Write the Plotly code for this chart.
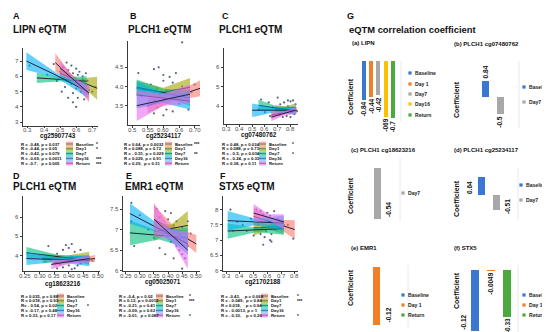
import plotly.graph_objects as go

W, H = 550, 332
FONT = "Liberation Sans, Arial, sans-serif"

def fx(px):
    return px / W

def fy(py):
    return 1 - py / H

def rgba(h, a):
    h = h.lstrip("#")
    return "rgba(%d,%d,%d,%.2f)" % (int(h[0:2], 16), int(h[2:4], 16), int(h[4:6], 16), a)

# ---------------- data ----------------
groups = ["Baseline", "Day1", "Day7", "Day16", "Return"]
group_colors = ["#F8766D", "#A3A500", "#00BF7D", "#00B0F6", "#E76BF3"]

# Panel A  LIPN  cg25907743
A_px = [0.31, 0.42, 0.46, 0.50, 0.52, 0.53, 0.54, 0.55, 0.56, 0.57, 0.57, 0.58, 0.58, 0.59, 0.60, 0.60, 0.61, 0.61,
        0.62, 0.62, 0.63, 0.64, 0.65, 0.65, 0.66, 0.55, 0.53, 0.60, 0.58, 0.68, 0.70, 0.72, 0.48, 0.51, 0.64, 0.67]
A_py = [6.7, 6.1, 6.8, 6.3, 6.6, 5.9, 6.9, 6.4, 6.0, 6.7, 5.5, 6.2, 4.9, 5.8, 6.5, 5.2, 6.1, 4.6,
        5.6, 6.3, 5.0, 6.0, 4.5, 5.4, 6.2, 4.6, 5.3, 4.0, 4.3, 5.1, 5.0, 5.3, 5.7, 5.0, 5.8, 5.7]
A_fit_x = [[0.47, 0.575, 0.68], [0.50, 0.615, 0.73], [0.355, 0.51, 0.665], [0.29, 0.48, 0.67], [0.50, 0.59, 0.68]]
A_fit_y = [[6.9, 5.85, 4.8], [6.2, 5.7, 5.22], [5.9, 5.8, 5.68], [7.0, 6.05, 5.0], [6.55, 5.75, 4.9]]
A_fit_ci = [[0.6, 0.2, 0.5], [0.4, 0.15, 0.75], [0.33, 0.12, 0.33], [0.58, 0.15, 0.4], [0.45, 0.15, 0.45]]
A_stats = ["R = -0.48, p = 0.037", "R = -0.44, p = 0.05", "R = -0.42, p = 0.079", "R = -0.69, p = 0.0011", "R = -0.7,   p = 0.005"]
A_stars = ["*", "*", "", "***", "***"]

# Panel B  PLCH1  cg25234117
B_px = [0.66, 0.52, 0.57, 0.585, 0.60, 0.62, 0.60, 0.63, 0.56, 0.58, 0.61, 0.64, 0.66, 0.59, 0.62, 0.57, 0.60, 0.65,
        0.55, 0.58, 0.61, 0.63, 0.57, 0.60, 0.68, 0.70, 0.53, 0.67, 0.64, 0.54, 0.69]
B_py = [5.15, 4.35, 4.45, 4.5, 4.3, 4.25, 4.15, 4.1, 4.05, 3.95, 3.9, 3.85, 4.0, 3.8, 3.7, 3.65, 3.6, 3.55,
        3.5, 3.45, 3.4, 3.35, 3.3, 3.25, 3.4, 4.05, 3.75, 3.7, 4.35, 3.9, 3.85]
B_fit_x = [[0.55, 0.635, 0.72], [0.515, 0.60, 0.685], [0.515, 0.60, 0.685], [0.515, 0.60, 0.685], [0.515, 0.60, 0.685]]
B_fit_y = [[3.5, 3.73, 3.96], [3.95, 3.85, 3.98], [3.98, 3.84, 3.7], [3.78, 3.7, 3.62], [3.5, 3.65, 3.8]]
B_fit_ci = [[0.2, 0.1, 0.21], [0.2, 0.12, 0.24], [0.2, 0.1, 0.2], [0.35, 0.13, 0.22], [0.4, 0.15, 0.25]]
B_stats = ["R = 0.64, p = 0.0032", "R = 0.088, p = 0.72", "R = - 0.51, p = 0.029", "R = 0.029, p = 0.91", "R = 0.29,  p = 0.31"]
B_stars = ["***", "", "**", "", ""]

# Panel C  PLCH1  cg07480762
C_px = [0.57, 0.63, 0.70, 0.72, 0.75, 0.78, 0.80, 0.82, 0.84, 0.66, 0.69, 0.73, 0.76, 0.79, 0.81, 0.83, 0.60, 0.67,
        0.71, 0.74, 0.77, 0.80, 0.83, 0.85, 0.55, 0.64, 0.78, 0.72]
C_py = [4.35, 4.2, 4.45, 4.1, 4.2, 4.0, 4.25, 4.3, 4.1, 3.95, 3.85, 3.9, 3.75, 3.8, 3.7, 3.9, 3.7, 3.6,
        3.55, 3.45, 3.5, 3.45, 3.6, 3.75, 3.85, 3.5, 4.3, 3.7]
C_fit_x = [[0.65, 0.75, 0.85], [0.68, 0.76, 0.84], [0.55, 0.695, 0.84], [0.50, 0.67, 0.84], [0.65, 0.745, 0.84]]
C_fit_y = [[3.55, 3.68, 3.8], [3.85, 3.9, 3.95], [4.05, 3.9, 3.75], [3.8, 3.8, 3.8], [3.45, 3.62, 3.8]]
C_fit_ci = [[0.2, 0.1, 0.18], [0.2, 0.1, 0.2], [0.28, 0.1, 0.2], [0.35, 0.12, 0.2], [0.22, 0.1, 0.18]]
C_stats = ["R = 0.48, p = 0.034", "R = 0.088, p = 0.73", "R = - 0.5, p = 0.034", "R = - 0.24, p = 0.33", "R = 0.38, p = 0.11"]
C_stars = ["*", "", "*", "", ""]

# Panel D  PLCH1  cg18623216
D_px = [0.26, 0.30, 0.33, 0.36, 0.38, 0.39, 0.40, 0.41, 0.42, 0.44, 0.37, 0.39, 0.41, 0.43, 0.45, 0.47, 0.35, 0.37,
        0.38, 0.40, 0.42, 0.44, 0.46, 0.48, 0.34, 0.36, 0.32, 0.43, 0.41, 0.39]
D_py = [4.1, 4.05, 4.5, 4.1, 4.3, 4.55, 4.4, 4.6, 4.2, 4.3, 3.9, 3.85, 3.95, 3.8, 3.9, 3.85, 3.6, 3.55,
        3.4, 3.5, 3.35, 3.6, 3.7, 3.75, 3.75, 3.35, 3.7, 3.5, 3.3, 3.7]
D_fit_x = [[0.35, 0.42, 0.49], [0.31, 0.39, 0.47], [0.255, 0.36, 0.47], [0.255, 0.36, 0.47], [0.34, 0.405, 0.47]]
D_fit_y = [[3.65, 3.75, 3.85], [3.85, 3.9, 3.95], [4.15, 3.95, 3.75], [3.85, 3.8, 3.75], [3.55, 3.7, 3.85]]
D_fit_ci = [[0.2, 0.1, 0.18], [0.25, 0.1, 0.25], [0.3, 0.1, 0.22], [0.33, 0.12, 0.3], [0.25, 0.1, 0.2]]
D_stats = ["R = 0.035, p = 0.88", "R = 0.018, p = 0.93", "R= - 0.54, p = 0.02", "R = -0.17, p = 0.48", "R = 0.33, p = 0.17"]
D_stars = ["", "", "*", "", ""]

# Panel E  EMR1  cg05025071
E_px = [0.27, 0.27, 0.28, 0.30, 0.33, 0.36, 0.37, 0.39, 0.40, 0.41, 0.42, 0.43, 0.44, 0.45, 0.46, 0.38, 0.40, 0.41,
        0.43, 0.44, 0.45, 0.46, 0.47, 0.48, 0.37, 0.39, 0.42, 0.45, 0.35, 0.47]
E_py = [7.65, 7.2, 6.6, 7.35, 7.0, 7.5, 7.3, 7.45, 7.25, 7.4, 7.1, 7.2, 6.95, 7.05, 6.8, 6.9, 6.85, 6.7,
        6.6, 6.5, 6.4, 6.3, 6.6, 6.9, 6.55, 6.4, 6.3, 6.05, 6.8, 7.2]
E_fit_x = [[0.35, 0.425, 0.50], [0.35, 0.41, 0.47], [0.265, 0.368, 0.47], [0.265, 0.368, 0.47], [0.35, 0.41, 0.47]]
E_fit_y = [[7.25, 6.95, 6.65], [6.95, 7.02, 7.1], [6.92, 6.86, 6.8], [7.39, 7.02, 6.65], [7.25, 6.88, 6.5]]
E_fit_ci = [[0.35, 0.1, 0.22], [0.22, 0.1, 0.35], [0.3, 0.1, 0.25], [0.25, 0.1, 0.25], [0.4, 0.12, 0.45]]
E_stats = ["R = -0.4, p = 0.02", "R = 0.12, p = 0.0012", "R = -0.21, p = 0.41", "R = -0.09, p = 0.63", "R = -0.61,  p = 0.087"]
E_stars = ["*", "***", "", "", "*"]

# Panel F  STX5  cg21702188
F_px = [0.33, 0.35, 0.42, 0.48, 0.52, 0.55, 0.57, 0.60, 0.62, 0.65, 0.68, 0.70, 0.53, 0.56, 0.59, 0.61, 0.63, 0.66,
        0.69, 0.72, 0.55, 0.58, 0.62, 0.63, 0.57, 0.75, 0.79, 0.50, 0.45, 0.38]
F_py = [8.0, 7.3, 7.5, 7.7, 8.0, 7.95, 7.85, 7.9, 7.8, 7.95, 7.7, 7.6, 7.5, 7.4, 7.3, 7.45, 7.2, 7.35,
        7.4, 7.5, 7.2, 7.1, 7.0, 6.95, 6.85, 7.5, 7.05, 7.15, 7.3, 7.6]
F_fit_x = [[0.50, 0.65, 0.80], [0.50, 0.61, 0.72], [0.31, 0.515, 0.72], [0.31, 0.515, 0.72], [0.50, 0.61, 0.72]]
F_fit_y = [[7.78, 7.57, 7.35], [7.4, 7.42, 7.45], [7.3, 7.34, 7.38], [7.64, 7.6, 7.56], [7.89, 7.75, 7.6]]
F_fit_ci = [[0.3, 0.1, 0.3], [0.25, 0.08, 0.25], [0.25, 0.08, 0.2], [0.32, 0.1, 0.25], [0.3, 0.1, 0.25]]
F_stats = ["R = -0.43,    p = 0.068", "R = - 0.049,  p = 0.84", "R = 0.018,    p = 0.94", "R = - 0.0013, p = 1", "R = - 0.33,    p = 0.26"]
F_stars = ["*", "***", "", "", "*"]

# Panel G  bar charts (values as drawn, labels as printed)
bar_colors = {"Baseline": "#3A77D2", "Day 1": "#F27E26", "Day7": "#A8A8A8", "Day16": "#FFC000", "Return": "#4CAA3C"}
Ga_groups = ["Baseline", "Day 1", "Day7", "Day16", "Return"]
Ga_values = [-0.48, -0.44, -0.42, -0.69, -0.70]
Ga_labels = ["-0.84", "-0.44", "-0.42", "-069", "-0.7"]
Gb_groups = ["Baseline", "Day7"]
Gb_values = [0.48, -0.50]
Gb_labels = ["0.84", "-0.5"]
Gc_groups = ["Day7"]
Gc_values = [-0.54]
Gc_labels = ["-0.54"]
Gd_groups = ["Baseline", "Day7"]
Gd_values = [0.64, -0.51]
Gd_labels = ["0.64", "-0.51"]
Ge_groups = ["Baseline", "Day 1", "Return"]
Ge_values = [None, -0.12, None]
Ge_labels = ["", "-0.12", ""]
Gf_groups = ["Baseline", "Day 1", "Return"]
Gf_values = [-0.43, -0.0049, -0.33]
Gf_labels = ["-0.12", "-0.0049", "-0.33"]

# ---------------- figure ----------------
fig = go.Figure()
annotations = []
shapes = []

def ann(text, px, py, size, bold=True, xanchor="left", yanchor="middle", color="#111", angle=0):
    t = "<b>%s</b>" % text if bold else text
    annotations.append(dict(text=t, x=fx(px), y=fy(py), xref="paper", yref="paper", showarrow=False,
                            xanchor=xanchor, yanchor=yanchor, textangle=angle, borderpad=0,
                            font=dict(size=size, family=FONT, color=color)))

scatter_panels = [
    dict(n=1, px=A_px, py=A_py, fx_=A_fit_x, fy_=A_fit_y, ci=A_fit_ci, stats=A_stats, stars=A_stars,
         xdom=(15, 90), ydom=(40, 117.5), xr=(0.269, 0.7355), yr=(2.79, 7.85),
         xt=[0.3, 0.4, 0.5, 0.6, 0.7], xtt=["0.3", "0.4", "0.5", "0.6", "0.7"],
         yt=[3, 4, 5, 6, 7], ytt=["3", "4", "5", "6", "7"],
         letter=("A", 4, 8), title=("LIPN eQTM", 4, 21), xlab=("cg25907743", 50, 127.5),
         st=(12, 58, 67, 87, 136)),
    dict(n=2, px=B_px, py=B_py, fx_=B_fit_x, fy_=B_fit_y, ci=B_fit_ci, stats=B_stats, stars=B_stars,
         xdom=(120, 192), ydom=(33, 116.7), xr=(0.4872, 0.7169), yr=(3.005, 5.185),
         xt=[0.5, 0.55, 0.6, 0.65, 0.7], xtt=["0.5", "0.55", "0.60", "0.6", "0.70"],
         yt=[3.5, 4.0, 4.5], ytt=["3.5", "4.0", "4.5"],
         letter=("B", 121, 8), title=("PLCH1 eQTM", 119, 21), xlab=("cg25234117", 156, 127.5),
         st=(115, 157, 166, 185, 136)),
    dict(n=3, px=C_px, py=C_py, fx_=C_fit_x, fy_=C_fit_y, ci=C_fit_ci, stats=C_stats, stars=C_stars,
         xdom=(216, 290), ydom=(40, 115.7), xr=(0.28, 0.859), yr=(3.108, 6.99),
         xt=[0.3, 0.4, 0.5, 0.6, 0.7, 0.8], xtt=["0.3", "0.4", "0.5", "0.6", "0.7", "0.8"],
         yt=[4, 5, 6], ytt=["4", "5", "6"],
         letter=("C", 213, 8), title=("PLCH1 eQTM", 210, 21), xlab=("cg07480762", 251, 127),
         st=(213, 251, 260, 283, 136)),
    dict(n=4, px=D_px, py=D_py, fx_=D_fit_x, fy_=D_fit_y, ci=D_fit_ci, stats=D_stats, stars=D_stars,
         xdom=(15, 92), ydom=(188, 263.3), xr=(0.2432, 0.5068), yr=(3.194, 7.085),
         xt=[0.25, 0.3, 0.35, 0.4, 0.45, 0.5], xtt=["0.25", "0.30", "0.35", "0.40", "0.45", "0.50"],
         yt=[4, 5, 6], ytt=["4", "5", "6"],
         letter=("D", 4, 168), title=("PLCH1 eQTM", 4, 178), xlab=("cg18623216", 55, 275.5),
         st=(12, 49, 58, 78, 288)),
    dict(n=5, px=E_px, py=E_py, fx_=E_fit_x, fy_=E_fit_y, ci=E_fit_ci, stats=E_stats, stars=E_stars,
         xdom=(115, 192), ydom=(188, 263), xr=(0.2404, 0.5131), yr=(5.993, 7.816),
         xt=[0.25, 0.3, 0.35, 0.4, 0.45, 0.5], xtt=["0.25", "0.30", "0.35", "0.40", "0.45", "0.50"],
         yt=[6, 6.5, 7, 7.5], ytt=["6", "6.5", "7", "7.5"],
         letter=("E", 117, 168), title=("EMR1 eQTM", 116, 178), xlab=("cg05025071", 155, 274),
         st=(110, 148, 157, 180, 288)),
    dict(n=6, px=F_px, py=F_py, fx_=F_fit_x, fy_=F_fit_y, ci=F_fit_ci, stats=F_stats, stars=F_stars,
         xdom=(215, 290), ydom=(188, 263), xr=(0.2759, 0.8241), yr=(5.99, 8.449),
         xt=[0.3, 0.4, 0.5, 0.6, 0.7, 0.8], xtt=["0.3", "0.4", "0.5", "0.6", "0.7", "0.8"],
         yt=[6, 6.5, 7, 7.5, 8], ytt=["6", "6.5", "7", "7.5", "8"],
         letter=("F", 211, 168), title=("STX5 eQTM", 210, 178), xlab=("cg21702188", 255, 274),
         st=(212, 253, 262, 288, 288)),
]

layout_axes = {}
for p in scatter_panels:
    n = p["n"]
    xa, ya = "x%d" % n, "y%d" % n
    fig.add_trace(go.Scatter(x=p["px"], y=p["py"], mode="markers", xaxis=xa, yaxis=ya,
                             marker=dict(size=2.2, color="#3c4a6a", opacity=0.85), hoverinfo="skip"))
    for gi in range(5):
        xs = p["fx_"][gi]
        ys = p["fy_"][gi]
        cs = p["ci"][gi]
        up = [y + c for y, c in zip(ys, cs)]
        lo = [y - c for y, c in zip(ys, cs)]
        fig.add_trace(go.Scatter(x=xs + xs[::-1], y=up + lo[::-1], fill="toself", mode="lines",
                                 line=dict(width=0), fillcolor=rgba(group_colors[gi], 0.6),
                                 xaxis=xa, yaxis=ya, hoverinfo="skip"))
        fig.add_trace(go.Scatter(x=xs, y=ys, mode="lines", line=dict(color="#20243a", width=1),
                                 xaxis=xa, yaxis=ya, hoverinfo="skip"))
    axstyle = dict(showline=True, linecolor="#3a3a3a", linewidth=0.8, ticks="outside", ticklen=2,
                   tickwidth=0.7, tickcolor="#3a3a3a", showgrid=False, zeroline=False, showticklabels=False)
    layout_axes["xaxis%d" % n] = dict(domain=[fx(p["xdom"][0]), fx(p["xdom"][1])], range=list(p["xr"]),
                                      anchor=ya, tickvals=p["xt"], **axstyle)
    layout_axes["yaxis%d" % n] = dict(domain=[fy(p["ydom"][1]), fy(p["ydom"][0])], range=list(p["yr"]),
                                      anchor=xa, tickvals=p["yt"], **axstyle)
    for v, t in zip(p["xt"], p["xtt"]):
        annotations.append(dict(text=t, x=v, xref=xa, y=fy(p["ydom"][1] + 5), yref="paper", showarrow=False,
                                xanchor="center", yanchor="middle", borderpad=0,
                                font=dict(size=6, family=FONT, color="#4d4d4d")))
    for v, t in zip(p["yt"], p["ytt"]):
        annotations.append(dict(text=t, x=fx(p["xdom"][0] - 3), xref="paper", y=v, yref=ya, showarrow=False,
                                xanchor="right", yanchor="middle", borderpad=0,
                                font=dict(size=6, family=FONT, color="#4d4d4d")))
    ann(p["letter"][0], p["letter"][1], p["letter"][2], 9)
    ann(p["title"][0], p["title"][1], p["title"][2], 10)
    ann(p["xlab"][0], p["xlab"][1], p["xlab"][2], 6.3, xanchor="center")
    tx, kx, nx, sx, r0 = p["st"]
    for i in range(5):
        ry = r0 + i * 4.8
        ann(p["stats"][i], tx, ry, 4.3)
        shapes.append(dict(type="rect", xref="paper", yref="paper", x0=fx(kx), x1=fx(kx + 7),
                           y0=fy(ry + 2.3), y1=fy(ry - 2.3), fillcolor=rgba(group_colors[i], 0.6),
                           line=dict(width=0)))
        shapes.append(dict(type="line", xref="paper", yref="paper", x0=fx(kx), x1=fx(kx + 7),
                           y0=fy(ry), y1=fy(ry), line=dict(color="#20243a", width=0.5)))
        ann(groups[i], nx, ry, 4.3)
        if p["stars"][i]:
            ann(p["stars"][i], sx, ry + 0.8, 4.6)

# ---------------- G panel ----------------
ann("G", 338, 8, 9)
ann("eQTM correlation coefficient", 340, 21, 9.4)

bar_panels = [
    dict(n=7, g=Ga_groups, v=Ga_values, lab=Ga_labels, xdom=(352.33, 389), ydom=(50, 120), yr=(-0.823, 0.0369),
         w=0.55, pos=["below"] * 5, title=("(a) LIPN", 343, 35), coef=(342, 89),
         leg=(402, [65, 76, 86, 96, 107]), frame=(393, 53, 114)),
    dict(n=8, g=Gb_groups, v=Gb_values, lab=Gb_labels, xdom=(469.5, 499.5), ydom=(50, 125), yr=(-1.075, 1.164),
         w=0.53, pos=["above", "below"], title=("(b) PLCH1 cg07480762", 445, 36), coef=(448, 92),
         leg=(516, [79, 94]), frame=(511, 53, 120)),
    dict(n=9, g=Gc_groups, v=Gc_values, lab=Gc_labels, xdom=(361.5, 376.5), ydom=(155, 215), yr=(-0.583, 0.053),
         w=0.53, pos=["right_end"], title=("(c) PLCH1 cg18623216", 342, 142), coef=(342, 188),
         leg=(395, [185]), frame=(392, 150, 213)),
    dict(n=10, g=Gd_groups, v=Gd_values, lab=Gd_labels, xdom=(465.5, 495.5), ydom=(160, 215), yr=(-0.972, 0.9375),
         w=0.53, pos=["left_zero", "right_zero"], title=("(d) PLCH1 cg25234117", 445, 142), coef=(448, 191),
         leg=(513, [177, 192]), frame=(510, 160, 212)),
    dict(n=11, g=Ge_groups, v=Ge_values, lab=Ge_labels, xdom=(346, 391), ydom=(255, 325), yr=(-0.1366, 0.00828),
         w=0.47, pos=["", "right_end", ""], title=("(e) EMR1", 342, 240), coef=(342, 280),
         leg=(395, [287, 297, 307]), frame=(400, 257, 320)),
    dict(n=12, g=Gf_groups, v=Gf_values, lab=Gf_labels, xdom=(459, 507), ydom=(257, 332), yr=(-0.496, 0.0355),
         w=0.5, pos=["left_end", "below", "below"], title=("(f) STX5", 445, 240), coef=(448, 283),
         leg=(516, [287, 297, 307]), frame=(510, 257, 330)),
]

for b in bar_panels:
    n = b["n"]
    xa, ya = "x%d" % n, "y%d" % n
    fig.add_trace(go.Bar(x=b["g"], y=b["v"], width=b["w"], xaxis=xa, yaxis=ya,
                         marker=dict(color=[bar_colors[g] for g in b["g"]], line=dict(width=0)),
                         hoverinfo="skip"))
    layout_axes["xaxis%d" % n] = dict(domain=[fx(b["xdom"][0]), fx(b["xdom"][1])], type="category",
                                      range=[-0.5, len(b["g"]) - 0.5], anchor=ya, visible=False)
    layout_axes["yaxis%d" % n] = dict(domain=[fy(b["ydom"][1]), fy(b["ydom"][0])], range=list(b["yr"]),
                                      anchor=xa, visible=False)
    for g, v, lab, pos in zip(b["g"], b["v"], b["lab"], b["pos"]):
        if v is None or not pos:
            continue
        d = dict(text="<b>%s</b>" % lab, x=g, xref=xa, yref=ya, showarrow=False, textangle=-90, borderpad=0,
                 font=dict(size=6.5, family=FONT, color="#111"))
        if pos == "below":
            d.update(y=v, xanchor="center", yanchor="top", yshift=-1)
        elif pos == "above":
            d.update(y=v, xanchor="center", yanchor="bottom", yshift=1)
        elif pos == "right_end":
            d.update(y=v, xanchor="left", yanchor="bottom", xshift=7, yshift=1)
        elif pos == "left_end":
            d.update(y=v, xanchor="right", yanchor="bottom", xshift=-7)
        elif pos == "left_zero":
            d.update(y=0, xanchor="right", yanchor="bottom", xshift=-7)
        elif pos == "right_zero":
            d.update(y=0, xanchor="left", yanchor="top", xshift=7, yshift=-3)
        annotations.append(d)
    ann(b["title"][0], b["title"][1], b["title"][2], 6)
    ann("Coefficient", b["coef"][0], b["coef"][1], 7, xanchor="center", angle=-90)
    lx, lys = b["leg"]
    for g, ly in zip(b["g"], lys):
        shapes.append(dict(type="rect", xref="paper", yref="paper", x0=fx(lx - 1.6), x1=fx(lx + 1.6),
                           y0=fy(ly + 1.6), y1=fy(ly - 1.6), fillcolor=bar_colors[g], line=dict(width=0)))
        ann(g, lx + 4, ly, 5.1, color="#222")
    fxp, fy0, fy1 = b["frame"]
    shapes.append(dict(type="line", xref="paper", yref="paper", x0=fx(fxp), x1=fx(fxp), y0=fy(fy0), y1=fy(fy1),
                       line=dict(color="#e4e4e4", width=0.8)))

fig.update_layout(width=W, height=H, margin=dict(l=0, r=0, t=0, b=0), paper_bgcolor="white",
                  plot_bgcolor="rgba(0,0,0,0)", showlegend=False, annotations=annotations, shapes=shapes,
                  font=dict(family=FONT), bargap=0, **layout_axes)

fig.write_html("out.html")
